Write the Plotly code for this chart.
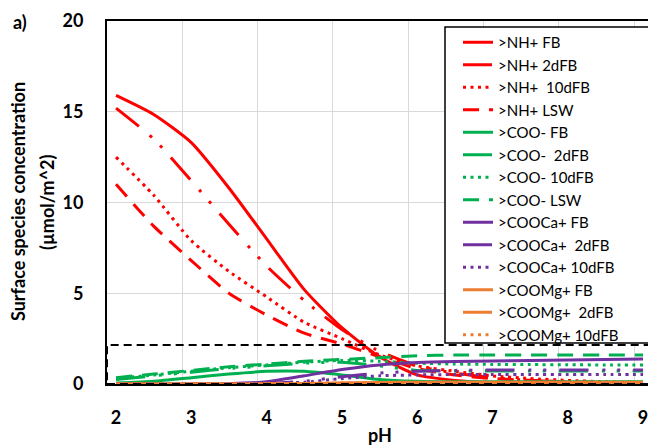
import plotly.graph_objects as go

# ---------------- data ----------------
pH = [2, 2.5, 3, 3.5, 4, 4.5, 5, 5.5, 6, 6.5, 7, 7.5, 8, 8.5, 9]

nh_fb = [15.9, 14.85, 13.3, 10.8, 8.0, 5.2, 3.1, 1.5, 0.5, 0.2, 0.08, 0.05, 0.03, 0.02, 0.01]
nh_2dfb = [15.2, 13.5, 11.2, 8.8, 6.5, 4.6, 3.0, 1.8, 1.0, 0.6, 0.35, 0.2, 0.12, 0.08, 0.05]
nh_10dfb = [12.5, 10.4, 7.9, 6.2, 4.8, 3.4, 2.5, 1.6, 1.0, 0.7, 0.45, 0.3, 0.2, 0.12, 0.08]
nh_lsw = [11.0, 8.7, 6.8, 5.0, 3.8, 2.8, 2.2, 1.5, 0.85, 0.5, 0.3, 0.2, 0.12, 0.08, 0.05]

coo_fb = [0.05, 0.15, 0.35, 0.55, 0.7, 0.7, 0.5, 0.25, 0.15, 0.12, 0.12, 0.12, 0.12, 0.12, 0.12]
coo_2dfb = [0.25, 0.45, 0.65, 0.85, 1.0, 1.15, 1.2, 1.0, 0.75, 0.72, 0.72, 0.72, 0.72, 0.72, 0.72]
coo_10dfb = [0.3, 0.5, 0.7, 0.9, 1.05, 1.2, 1.3, 1.25, 1.15, 1.1, 1.08, 1.07, 1.06, 1.05, 1.05]
coo_lsw = [0.35, 0.55, 0.75, 0.95, 1.1, 1.25, 1.35, 1.45, 1.55, 1.6, 1.6, 1.6, 1.6, 1.6, 1.6]

ca_fb = [0, 0, 0, 0.02, 0.12, 0.45, 0.8, 1.05, 1.18, 1.24, 1.27, 1.3, 1.32, 1.35, 1.38]
ca_2dfb = [0, 0, 0, 0, 0.03, 0.15, 0.4, 0.6, 0.7, 0.75, 0.77, 0.77, 0.77, 0.77, 0.77]
ca_10dfb = [0, 0, 0, 0, 0.02, 0.1, 0.3, 0.45, 0.5, 0.52, 0.52, 0.52, 0.52, 0.52, 0.52]

mg_fb = [0, 0, 0, 0, 0.01, 0.03, 0.06, 0.08, 0.1, 0.1, 0.1, 0.1, 0.1, 0.1, 0.1]
mg_2dfb = [0, 0, 0, 0, 0.01, 0.02, 0.04, 0.05, 0.06, 0.06, 0.06, 0.06, 0.06, 0.06, 0.06]
mg_10dfb = [0, 0, 0, 0, 0.01, 0.03, 0.05, 0.07, 0.08, 0.08, 0.08, 0.08, 0.08, 0.08, 0.08]

x_ticks = [2, 3, 4, 5, 6, 7, 8, 9]
y_ticks = [0, 5, 10, 15, 20]
box_top = 2.15  # dashed highlight box upper value

NB = "\u00a0"
series = [
    (">NH+ FB", nh_fb, "#FF0000", "solid"),
    (">NH+ 2dFB", nh_2dfb, "#FF0000", "2dfb"),
    (">NH+" + NB + NB + "10dFB", nh_10dfb, "#FF0000", "dot"),
    (">NH+ LSW", nh_lsw, "#FF0000", "lsw"),
    (">COO- FB", coo_fb, "#00B050", "solid"),
    (">COO-" + NB + NB + "2dFB", coo_2dfb, "#00B050", "2dfb"),
    (">COO- 10dFB", coo_10dfb, "#00B050", "dot"),
    (">COO- LSW", coo_lsw, "#00B050", "lsw"),
    (">COOCa+ FB", ca_fb, "#7030A0", "solid"),
    (">COOCa+" + NB + NB + "2dFB", ca_2dfb, "#7030A0", "2dfb"),
    (">COOCa+ 10dFB", ca_10dfb, "#7030A0", "dot"),
    (">COOMg+ FB", mg_fb, "#ED7D31", "solid"),
    (">COOMg+" + NB + NB + "2dFB", mg_2dfb, "#ED7D31", "2dfb"),
    (">COOMg+ 10dFB", mg_10dfb, "#ED7D31", "dot"),
]

dash_map = {
    "solid": "solid",
    "2dfb": "29px,14px,3px,12px,3px,13px",
    "dot": "3px,4.5px",
    "lsw": "16px,10px",
}

FONT = "Lato, 'Open Sans', sans-serif"

fig = go.Figure()
for i, (name, vals, col, style) in enumerate(series):
    fig.add_trace(go.Scatter(
        x=pH, y=vals, mode="lines", name=name,
        line=dict(color=col, width=3, dash=dash_map[style], shape="spline", smoothing=0.6),
    ))

W, H = 648, 447
L, R, T, B = 107, 0, 21, 63
pw, ph = W - L - R, H - T - B


def px_x(px):
    return (px - L) / pw


def px_y(py):
    return (H - B - py) / ph


fig.update_layout(
    width=W, height=H,
    margin=dict(l=L, r=R, t=T, b=B),
    paper_bgcolor="white", plot_bgcolor="white",
    font=dict(family=FONT, color="black"),
    showlegend=True,
    legend=dict(
        x=px_x(458), y=px_y(26), xanchor="left", yanchor="top",
        bgcolor="rgba(0,0,0,0)", borderwidth=0,
        font=dict(size=15, family=FONT, color="black"),
        tracegroupgap=0,
        itemclick=False, itemdoubleclick=False,
    ),
    xaxis=dict(
        range=[1.88, 9.066],
        tickvals=x_ticks, ticktext=[str(v) for v in x_ticks],
        showgrid=False, zeroline=False,
        ticks="", ticklabelstandoff=16, ticklabeloverflow="allow",
        tickfont=dict(size=18, family=FONT, color="black", weight="bold"),
        minor=dict(tick0=1.88, dtick=1, showgrid=True, gridcolor="#D9D9D9", gridwidth=1, ticks=""),
        showline=True, linecolor="black", linewidth=2, mirror=True,
    ),
    yaxis=dict(
        range=[0, 20], tickvals=y_ticks,
        showgrid=True, gridcolor="#D9D9D9", gridwidth=1,
        zeroline=False, ticks="", ticklabelstandoff=18,
        tickfont=dict(size=18, family=FONT, color="black", weight="bold"),
        showline=True, linecolor="black", linewidth=2,
    ),
    shapes=[
        # legend frame
        dict(type="rect", xref="paper", yref="paper",
             x0=px_x(445), x1=1.02, y0=px_y(343), y1=px_y(27),
             fillcolor="white", line=dict(color="black", width=1.5), layer="above"),
        # dashed highlight box
        dict(type="rect", xref="paper", yref="y",
             x0=0, x1=1.02, y0=0, y1=box_top,
             fillcolor="rgba(0,0,0,0)", line=dict(color="black", width=2, dash="8px,5px"), layer="above"),
    ],
    annotations=[
        dict(text="<b>a)</b>", xref="paper", yref="paper", x=px_x(20), y=px_y(22),
             xanchor="center", yanchor="middle", showarrow=False, font=dict(size=18, family=FONT)),
        dict(text="<b>Surface species concentration</b>", xref="paper", yref="paper",
             x=px_x(18), y=px_y(202), xanchor="center", yanchor="middle", textangle=-90,
             showarrow=False, font=dict(size=18, family=FONT)),
        dict(text="<b>(µmol/m^2)</b>", xref="paper", yref="paper",
             x=px_x(47), y=px_y(202), xanchor="center", yanchor="middle", textangle=-90,
             showarrow=False, font=dict(size=18, family=FONT)),
        dict(text="<b>pH</b>", xref="paper", yref="paper", x=px_x(380), y=px_y(435),
             xanchor="center", yanchor="middle", showarrow=False, font=dict(size=18, family=FONT)),
    ],
)

fig.write_html("out.html")
